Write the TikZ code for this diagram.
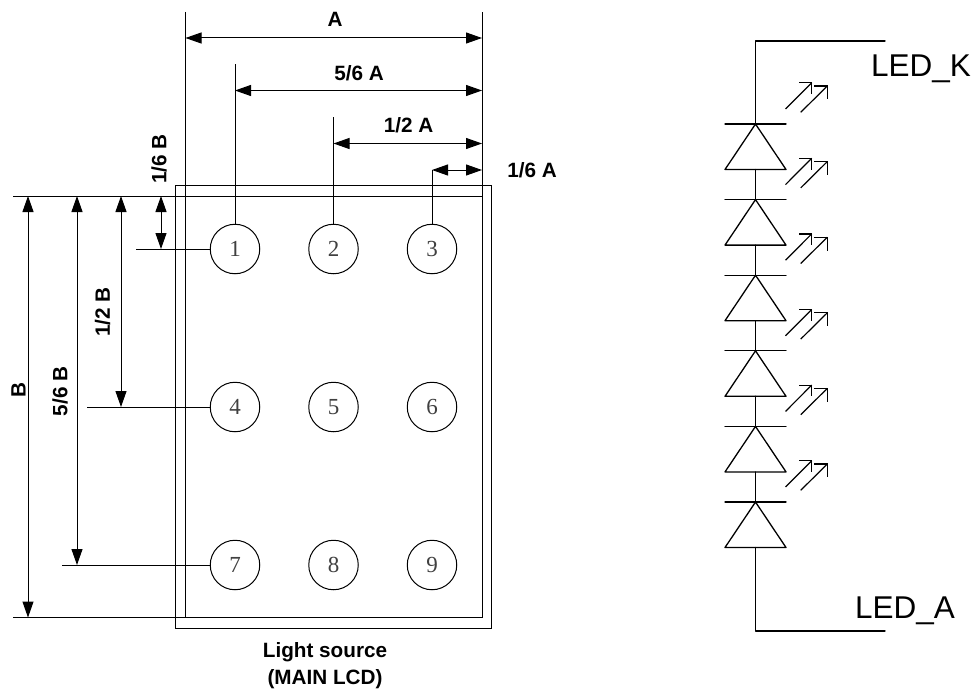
\documentclass[tikz,border=0pt]{standalone}
\usepackage{fontspec}
\setmainfont{Liberation Sans}
\newfontfamily\serifnum{Liberation Serif}
\usetikzlibrary{arrows.meta}
\tikzset{
  ln/.style={line width=1pt,black},
  dim/.style={line width=1pt,black,{Triangle[length=16pt,width=11pt]}-{Triangle[length=16pt,width=11pt]}},
  spot/.style={circle,draw,line width=1pt,minimum size=49.5pt,inner sep=0pt,font=\serifnum\fontsize{23}{23}\selectfont,text=black!75},
  lab/.style={inner sep=0pt,font=\bfseries\fontsize{20.7}{20.7}\selectfont},
  ledlab/.style={inner sep=0pt,anchor=base west,font=\fontsize{31.5}{31.5}\selectfont},
  wire/.style={line width=1.3pt,black,line cap=round,line join=round},
  ray/.style={line width=1.2pt,black,line join=miter}
}
\begin{document}
\begin{tikzpicture}[x=1pt,y=-1pt]
\useasboundingbox (0,0) rectangle (976,693);
% frames
\draw[ln] (175.5,185.5) rectangle (491.5,628);
% spots
\foreach \n/\x/\y in {1/235/249,2/333.5/249,3/432/249,4/235/407,5/333.5/407,6/432/407,7/235/565,8/333.5/565,9/432/565}
  \node[spot] (c\n) at (\x,\y) {\n};
% named ends
\coordinate (tl) at (185.5,196);
\coordinate (tr) at (482,196);
\coordinate (bl) at (185.5,617.5);
\coordinate (br) at (482,617.5);
\coordinate (extL) at (185.5,12);
\coordinate (extR) at (482,12);
\coordinate (farT) at (13,196);
\coordinate (farB) at (13,617.5);
\coordinate (e1) at (235,64);
\coordinate (e2) at (333.5,117);
\coordinate (e3) at (432,170);
\coordinate (l1) at (136,249);
\coordinate (l4) at (87,407);
\coordinate (l7) at (62,565);
% extension lines
\draw[ln] (extL) -- (bl) -- (br) -- (extR);
\draw[ln] (farT) -- (tr);
\draw[ln] (farB) -- (bl);
\draw[ln] (e1) -- (c1.north);
\draw[ln] (e2) -- (c2.north);
\draw[ln] (e3) -- (c3.north);
\draw[ln] (l1) -- (c1.west);
\draw[ln] (l4) -- (c4.west);
\draw[ln] (l7) -- (c7.west);
% horizontal dimensions
\draw[dim] (extL |- 0,38) -- (extR |- 0,38);
\draw[dim] (e1 |- 0,90.5) -- (extR |- 0,90.5);
\draw[dim] (e2 |- 0,143.5) -- (extR |- 0,143.5);
\draw[dim] (e3) -- (extR |- e3);
% vertical dimensions
\draw[dim] (161,196) -- (161,249);
\draw[dim] (121,196) -- (121,407);
\draw[dim] (77,196) -- (77,565);
\draw[dim] (28,196) -- (28,617.5);
% labels
\node[lab] (la) at (335,19) {A};
\node[lab] (l56a) at (359,73.5) {5/6 A};
\node[lab] (l12a) at (408.5,125) {1/2 A};
\node[lab] (l16a) at (532,170) {1/6 A};
\node[lab,rotate=90] (l16b) at (159,159) {1/6 B};
\node[lab,rotate=90] (l12b) at (102.5,312) {1/2 B};
\node[lab,rotate=90] (l56b) at (60,391.5) {5/6 B};
\node[lab,rotate=90] (lb) at (18.5,390.5) {B};
\node[lab,anchor=base] (ls1) at (325,657.5) {Light source};
\node[lab,anchor=base] (ls2) at (325,684.5) {(MAIN LCD)};
% LED string
\coordinate (kEnd) at (885,41);
\coordinate (aEnd) at (885,631);
\coordinate (kTurn) at (755.5,41);
\coordinate (aTurn) at (755.5,631);
\foreach \i in {0,...,5}{
  \pgfmathsetmacro{\ya}{124+75.6*\i}
  \pgfmathsetmacro{\yb}{\ya+45.5}
  \coordinate (ap\i) at (755.5,\ya);
  \coordinate (ba\i) at (755.5,\yb);
  \draw[wire] (725,\ya) -- (786,\ya);
  \draw[wire] (ap\i) -- (725,\yb) -- (786,\yb) -- cycle;
  \pgfmathsetmacro{\ra}{109+75.6*\i}
  \pgfmathsetmacro{\rb}{82.7+75.6*\i}
  \pgfmathsetmacro{\rc}{94+75.6*\i}
  \pgfmathsetmacro{\rd}{112.3+75.6*\i}
  \pgfmathsetmacro{\re}{86+75.6*\i}
  \pgfmathsetmacro{\rf}{99.3+75.6*\i}
  \draw[ray] (785.5,\ra) -- (811.7,\rb);
  \draw[ray] (799,\rb) -- (811.7,\rb) -- (811.7,\rc);
  \draw[ray] (800.7,\rd) -- (827.3,\re);
  \draw[ray] (814,\re) -- (827.3,\re) -- (827.3,\rf);
}
\draw[wire] (kEnd) -- (kTurn) -- (ap0);
\foreach \i/\j in {0/1,1/2,2/3,3/4,4/5} \draw[wire] (ba\i) -- (ap\j);
\draw[wire] (ba5) -- (aTurn) -- (aEnd);
\node[ledlab] (kl) at (871,77) {LED\_K};
\node[ledlab] (al) at (855,618) {LED\_A};
\end{tikzpicture}
\end{document}
